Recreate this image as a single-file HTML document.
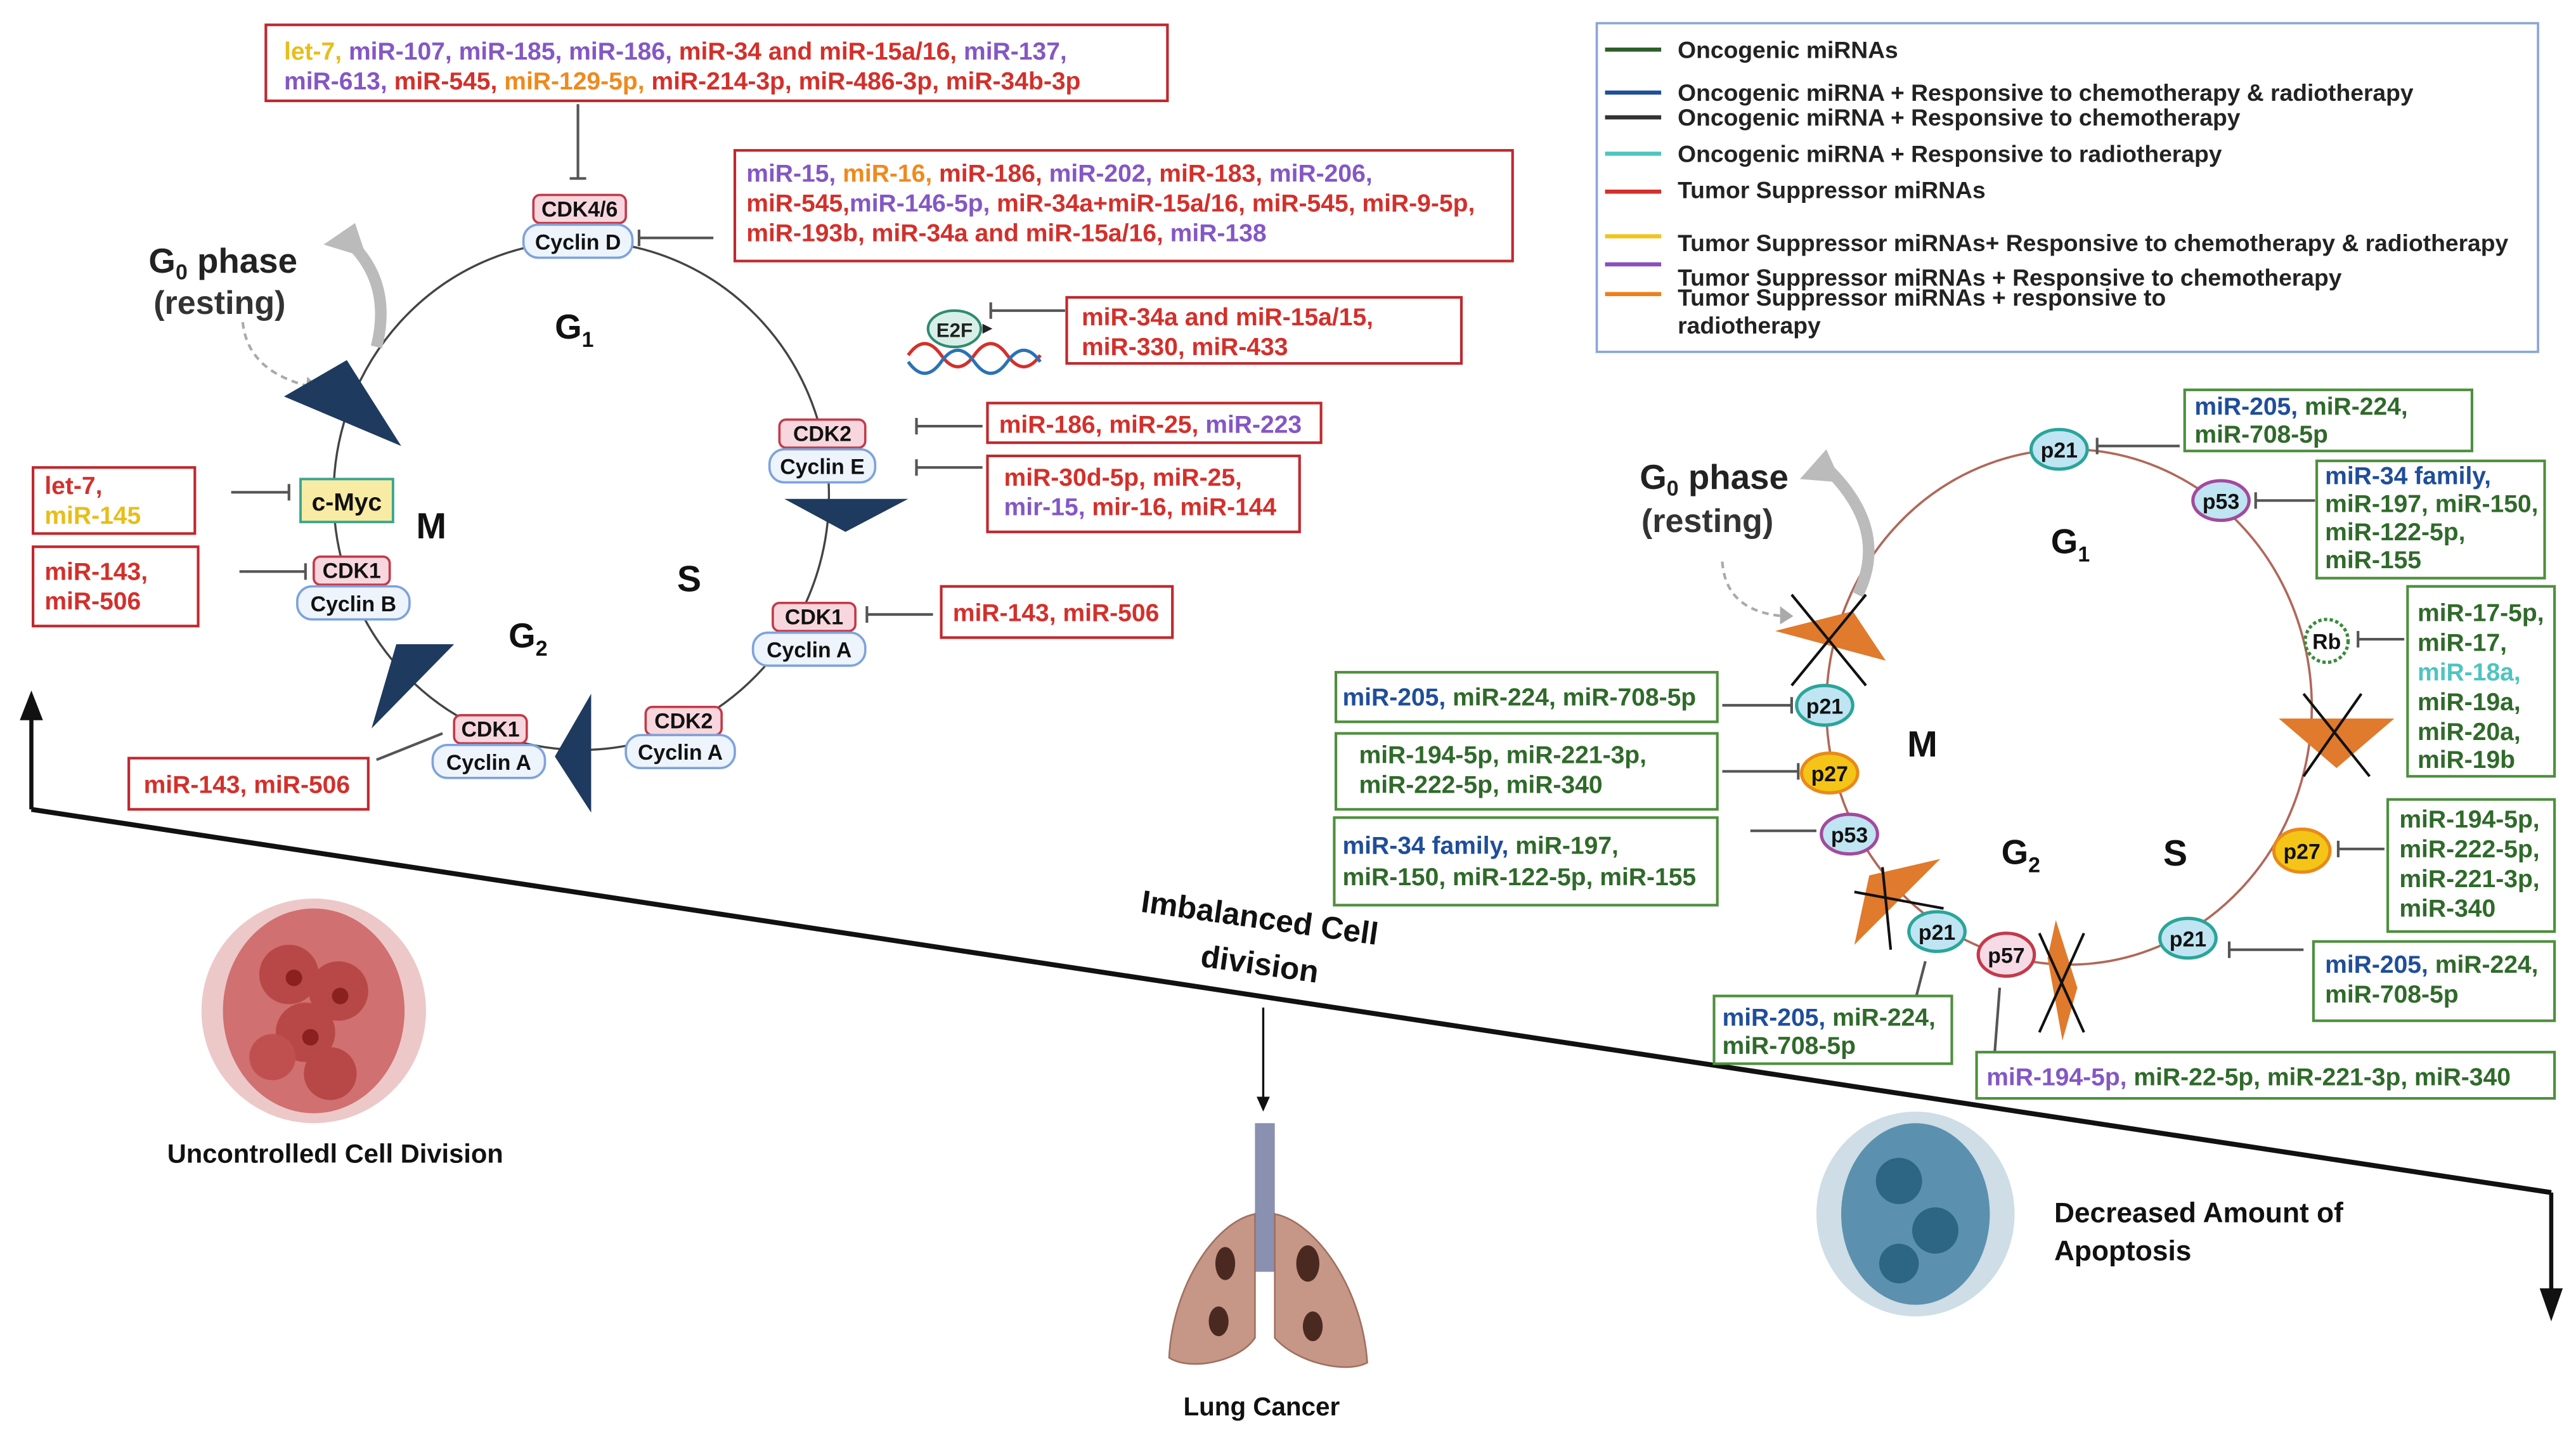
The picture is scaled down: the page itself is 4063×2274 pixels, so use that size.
<!DOCTYPE html>
<html><head><meta charset="utf-8"><style>
html,body{margin:0;padding:0;background:#fff;}
svg{display:block}
text{font-family:"Liberation Sans",sans-serif;font-weight:bold;}
.t{font-size:15px;}
.r{fill:#d3302b}.p{fill:#8457c4}.y{fill:#e7be1a}.o{fill:#ef8a1e}.g{fill:#2f6a2a}.b{fill:#1f4e9a}.c{fill:#4fc4c0}
.rb{fill:#fff;stroke:#c0282d;stroke-width:1.6}
.gb{fill:#fff;stroke:#4e8f3e;stroke-width:1.6}
.cdk{fill:#f7d7dd;stroke:#c33a4a;stroke-width:1.4}
.cyc{fill:#eef4fc;stroke:#7ea3dc;stroke-width:1.4}
.nl{font-size:13px;fill:#111}
.inh{stroke:#555;stroke-width:1.6;fill:none}
</style></head><body>
<svg width="4063" height="2274" viewBox="0 0 1560 873" xmlns="http://www.w3.org/2000/svg">
<rect width="1560" height="873" fill="#fff"/>

<line x1="19" y1="490" x2="1545" y2="722" stroke="#111" stroke-width="3"/>
<line x1="19" y1="490" x2="19" y2="430" stroke="#111" stroke-width="2.5"/>
<polygon points="12,436 26,436 19,418" fill="#111"/>
<line x1="1545" y1="722" x2="1545" y2="785" stroke="#111" stroke-width="2.5"/>
<polygon points="1538,780 1552,780 1545,800" fill="#111"/>

<ellipse cx="352" cy="300" rx="150" ry="154" fill="none" stroke="#444" stroke-width="1.3"/>
<path d="M228,210 Q238,170 210,145" stroke="#bbb" stroke-width="7" fill="none"/>
<polygon points="196,148 215,135 222,156" fill="#bbb"/>
<path d="M147,195 Q150,225 188,234" stroke="#aaa" stroke-width="1.6" stroke-dasharray="4,3" fill="none"/>
<polygon points="186,228 194,235 185,240" fill="#aaa"/>
<text x="90" y="165" font-size="21" fill="#222">G<tspan font-size="13" dy="4">0</tspan><tspan dy="-4"> phase</tspan></text>
<text x="93" y="190" font-size="20" fill="#333" font-weight="normal">(resting)</text>
<text x="336" y="205" font-size="21" fill="#111">G<tspan font-size="13" dy="5">1</tspan></text>
<text x="252" y="326" font-size="22" fill="#111">M</text>
<text x="410" y="358" font-size="22" fill="#111">S</text>
<text x="308" y="392" font-size="21" fill="#111">G<tspan font-size="13" dy="5">2</tspan></text>
<g fill="#1e3a5f">
<polygon points="172,240 210,218 243,270"/>
<polygon points="475,302 550,302 512,322"/>
<polygon points="225,441 240,390 275,390"/>
<polygon points="358,420 358,492 336,458"/>
</g>
<rect x="323" y="118" width="56" height="17" rx="4" class="cdk"/><text x="351" y="131" text-anchor="middle" class="nl">CDK4/6</text>
<rect x="317" y="136" width="66" height="20" rx="9" class="cyc"/><text x="350" y="151" text-anchor="middle" class="nl">Cyclin D</text>
<rect x="472" y="254" width="52" height="17" rx="4" class="cdk"/><text x="498" y="267" text-anchor="middle" class="nl">CDK2</text>
<rect x="466" y="272" width="64" height="20" rx="9" class="cyc"/><text x="498" y="287" text-anchor="middle" class="nl">Cyclin E</text>
<rect x="468" y="365" width="50" height="17" rx="4" class="cdk"/><text x="493" y="378" text-anchor="middle" class="nl">CDK1</text>
<rect x="456" y="383" width="68" height="20" rx="9" class="cyc"/><text x="490" y="398" text-anchor="middle" class="nl">Cyclin A</text>
<rect x="391" y="428" width="46" height="17" rx="4" class="cdk"/><text x="414" y="441" text-anchor="middle" class="nl">CDK2</text>
<rect x="379" y="445" width="66" height="20" rx="9" class="cyc"/><text x="412" y="460" text-anchor="middle" class="nl">Cyclin A</text>
<rect x="275" y="433" width="44" height="17" rx="4" class="cdk"/><text x="297" y="446" text-anchor="middle" class="nl">CDK1</text>
<rect x="262" y="451" width="68" height="20" rx="9" class="cyc"/><text x="296" y="466" text-anchor="middle" class="nl">Cyclin A</text>
<rect x="190" y="337" width="46" height="17" rx="4" class="cdk"/><text x="213" y="350" text-anchor="middle" class="nl">CDK1</text>
<rect x="180" y="355" width="68" height="20" rx="9" class="cyc"/><text x="214" y="370" text-anchor="middle" class="nl">Cyclin B</text>
<rect x="182" y="290" width="56" height="26" fill="#f8eba4" stroke="#3aa590" stroke-width="1.5"/><text x="210" y="309" text-anchor="middle" font-size="15" fill="#111">c-Myc</text>
<ellipse cx="578" cy="199" rx="16" ry="11" fill="#d8efe8" stroke="#2e8b70" stroke-width="1.6"/><text x="578" y="204" text-anchor="middle" font-size="12" fill="#222">E2F</text>
<polygon points="595,196 601,199 595,202" fill="#222"/>
<path d="M550,215 q10,-14 20,0 t20,0 t20,0 t20,0" stroke="#d3302b" stroke-width="2" fill="none"/>
<path d="M550,219 q10,14 20,0 t20,0 t20,0 t20,0" stroke="#2a72b5" stroke-width="2" fill="none"/>
<g class="inh">
<line x1="350" y1="63" x2="350" y2="108"/><line x1="345" y1="108" x2="355" y2="108"/>
<line x1="432" y1="144" x2="387" y2="144"/><line x1="387" y1="139" x2="387" y2="149"/>
<line x1="645" y1="188" x2="600" y2="188"/><line x1="600" y1="183" x2="600" y2="193"/>
<line x1="595" y1="258" x2="555" y2="258"/><line x1="555" y1="253" x2="555" y2="263"/>
<line x1="595" y1="283" x2="555" y2="283"/><line x1="555" y1="278" x2="555" y2="288"/>
<line x1="565" y1="372" x2="525" y2="372"/><line x1="525" y1="367" x2="525" y2="377"/>
<line x1="140" y1="298" x2="175" y2="298"/><line x1="175" y1="293" x2="175" y2="303"/>
<line x1="145" y1="346" x2="185" y2="346"/><line x1="185" y1="341" x2="185" y2="351"/>
<line x1="228" y1="460" x2="268" y2="444"/>
</g>
<rect x="161" y="15" width="546" height="46" class="rb"/>
<text class="t" x="172" y="36"><tspan class="y">let-7, </tspan><tspan class="p">miR-107, miR-185, miR-186, </tspan><tspan class="r">miR-34 and miR-15a/16, </tspan><tspan class="p">miR-137,</tspan></text>
<text class="t" x="172" y="54"><tspan class="p">miR-613, </tspan><tspan class="r">miR-545, </tspan><tspan class="o">miR-129-5p, </tspan><tspan class="r">miR-214-3p, miR-486-3p, miR-34b-3p</tspan></text>
<rect x="445" y="91" width="471" height="67" class="rb"/>
<text class="t" x="452" y="110"><tspan class="p">miR-15, </tspan><tspan class="o">miR-16, </tspan><tspan class="r">miR-186, </tspan><tspan class="p">miR-202, </tspan><tspan class="r">miR-183, </tspan><tspan class="p">miR-206,</tspan></text>
<text class="t" x="452" y="128"><tspan class="r">miR-545,</tspan><tspan class="p">miR-146-5p, </tspan><tspan class="r">miR-34a+miR-15a/16, miR-545, miR-9-5p,</tspan></text>
<text class="t" x="452" y="146"><tspan class="r">miR-193b, miR-34a and miR-15a/16, </tspan><tspan class="p">miR-138</tspan></text>
<rect x="646" y="180" width="239" height="40" class="rb"/>
<text class="t r" x="655" y="197">miR-34a and miR-15a/15,</text>
<text class="t r" x="655" y="215">miR-330, miR-433</text>
<rect x="598" y="244" width="202" height="24" class="rb"/>
<text class="t" x="605" y="262"><tspan class="r">miR-186, miR-25, </tspan><tspan class="p">miR-223</tspan></text>
<rect x="598" y="276" width="189" height="46" class="rb"/>
<text class="t r" x="608" y="294">miR-30d-5p, miR-25,</text>
<text class="t" x="608" y="312"><tspan class="p">mir-15, </tspan><tspan class="r">mir-16, miR-144</tspan></text>
<rect x="570" y="355" width="140" height="31" class="rb"/>
<text class="t r" x="577" y="376">miR-143, miR-506</text>
<rect x="20" y="283" width="98" height="40" class="rb"/>
<text class="t r" x="27" y="299">let-7,</text><text class="t y" x="27" y="317">miR-145</text>
<rect x="20" y="331" width="100" height="48" class="rb"/>
<text class="t r" x="27" y="351">miR-143,</text><text class="t r" x="27" y="369">miR-506</text>
<rect x="78" y="459" width="145" height="31" class="rb"/>
<text class="t r" x="87" y="480">miR-143, miR-506</text>

<rect x="967" y="14" width="570" height="199" fill="#fff" stroke="#8aa6d6" stroke-width="1.4"/>
<g stroke-width="2.5">
<line x1="972" y1="30" x2="1006" y2="30" stroke="#2e5e2e"/>
<line x1="972" y1="56" x2="1006" y2="56" stroke="#1f4e9a"/>
<line x1="972" y1="71" x2="1006" y2="71" stroke="#333"/>
<line x1="972" y1="93" x2="1006" y2="93" stroke="#4fc4c0"/>
<line x1="972" y1="116" x2="1006" y2="116" stroke="#d3302b"/>
<line x1="972" y1="143" x2="1006" y2="143" stroke="#f0c419"/>
<line x1="972" y1="160" x2="1006" y2="160" stroke="#8a4fc0"/>
<line x1="972" y1="178" x2="1006" y2="178" stroke="#f07f1a"/>
</g>
<g font-size="14.3" fill="#222">
<text x="1016" y="35">Oncogenic miRNAs</text>
<text x="1016" y="61">Oncogenic miRNA + Responsive to chemotherapy &amp; radiotherapy</text>
<text x="1016" y="76">Oncogenic miRNA + Responsive to chemotherapy</text>
<text x="1016" y="98">Oncogenic miRNA + Responsive to radiotherapy</text>
<text x="1016" y="120">Tumor Suppressor miRNAs</text>
<text x="1016" y="152">Tumor Suppressor miRNAs+ Responsive to chemotherapy &amp; radiotherapy</text>
<text x="1016" y="173">Tumor Suppressor miRNAs + Responsive to chemotherapy</text>
<text x="1016" y="185">Tumor Suppressor miRNAs + responsive to</text>
<text x="1016" y="202">radiotherapy</text>
</g>

<ellipse cx="1253" cy="428" rx="147" ry="156" fill="none" stroke="#b0685a" stroke-width="1.4"/>
<path d="M1125,360 Q1145,320 1105,282" stroke="#bbb" stroke-width="7" fill="none"/>
<polygon points="1090,290 1106,272 1115,292" fill="#bbb"/>
<path d="M1043,340 Q1045,370 1080,373" stroke="#aaa" stroke-width="1.6" stroke-dasharray="4,3" fill="none"/>
<polygon points="1078,367 1086,373 1078,378" fill="#aaa"/>
<text x="993" y="296" font-size="21" fill="#222">G<tspan font-size="13" dy="4">0</tspan><tspan dy="-4"> phase</tspan></text>
<text x="994" y="322" font-size="20" fill="#333" font-weight="normal">(resting)</text>
<text x="1242" y="335" font-size="21" fill="#111">G<tspan font-size="13" dy="5">1</tspan></text>
<text x="1155" y="458" font-size="22" fill="#111">M</text>
<text x="1212" y="523" font-size="21" fill="#111">G<tspan font-size="13" dy="5">2</tspan></text>
<text x="1310" y="524" font-size="22" fill="#111">S</text>
<g fill="#e07a2c">
<polygon points="1075,382 1122,370 1142,400"/>
<polygon points="1380,435 1450,435 1415,465"/>
<polygon points="1123,572 1132,530 1175,520"/>
<polygon points="1245,557 1258,598 1249,630 1240,580"/>
</g>
<g stroke="#111" stroke-width="1.6">
<line x1="1085" y1="360" x2="1130" y2="415"/><line x1="1130" y1="360" x2="1085" y2="415"/>
<line x1="1395" y1="420" x2="1435" y2="470"/><line x1="1430" y1="420" x2="1395" y2="470"/>
<line x1="1123" y1="540" x2="1177" y2="550"/><line x1="1140" y1="525" x2="1145" y2="575"/>
<line x1="1235" y1="565" x2="1262" y2="625"/><line x1="1262" y1="565" x2="1235" y2="625"/>
</g>
<g font-size="13" fill="#111" text-anchor="middle">
<ellipse cx="1247" cy="272" rx="17" ry="12" fill="#bfe4f2" stroke="#2aa59a" stroke-width="2"/><text x="1247" y="277">p21</text>
<ellipse cx="1345" cy="303" rx="17" ry="12" fill="#bfe4f2" stroke="#a34a9c" stroke-width="2"/><text x="1345" y="308">p53</text>
<ellipse cx="1105" cy="427" rx="17" ry="12" fill="#bfe4f2" stroke="#2aa59a" stroke-width="2"/><text x="1105" y="432">p21</text>
<ellipse cx="1108" cy="468" rx="17" ry="12" fill="#f4c517" stroke="#e88a1a" stroke-width="2"/><text x="1108" y="473">p27</text>
<ellipse cx="1120" cy="505" rx="17" ry="12" fill="#bfe4f2" stroke="#a34a9c" stroke-width="2"/><text x="1120" y="510">p53</text>
<ellipse cx="1173" cy="564" rx="17" ry="12" fill="#bfe4f2" stroke="#2aa59a" stroke-width="2"/><text x="1173" y="569">p21</text>
<ellipse cx="1215" cy="578" rx="17" ry="13" fill="#f6dbe6" stroke="#c33a4a" stroke-width="2"/><text x="1215" y="583">p57</text>
<ellipse cx="1325" cy="568" rx="17" ry="12" fill="#bfe4f2" stroke="#2aa59a" stroke-width="2"/><text x="1325" y="573">p21</text>
<ellipse cx="1394" cy="515" rx="17" ry="13" fill="#f4c517" stroke="#e88a1a" stroke-width="2"/><text x="1394" y="520">p27</text>
<circle cx="1409" cy="388" r="13" fill="#fff" stroke="#3a8a3a" stroke-width="2" stroke-dasharray="2,1.5"/><text x="1409" y="393">Rb</text>
</g>
<g class="inh">
<line x1="1320" y1="270" x2="1270" y2="270"/><line x1="1270" y1="265" x2="1270" y2="275"/>
<line x1="1402" y1="303" x2="1366" y2="303"/><line x1="1366" y1="298" x2="1366" y2="308"/>
<line x1="1456" y1="387" x2="1428" y2="387"/><line x1="1428" y1="382" x2="1428" y2="392"/>
<line x1="1043" y1="427" x2="1085" y2="427"/><line x1="1085" y1="422" x2="1085" y2="432"/>
<line x1="1043" y1="467" x2="1089" y2="467"/><line x1="1089" y1="462" x2="1089" y2="472"/>
<line x1="1060" y1="503" x2="1100" y2="503"/>
<line x1="1444" y1="514" x2="1416" y2="514"/><line x1="1416" y1="509" x2="1416" y2="519"/>
<line x1="1395" y1="575" x2="1350" y2="575"/><line x1="1350" y1="570" x2="1350" y2="580"/>
<line x1="1160" y1="605" x2="1166" y2="582"/>
<line x1="1208" y1="637" x2="1211" y2="598"/>
</g>
<rect x="1323" y="236" width="174" height="37" class="gb"/>
<text class="t" x="1329" y="251"><tspan class="b">miR-205, </tspan><tspan class="g">miR-224,</tspan></text><text class="t g" x="1329" y="268">miR-708-5p</text>
<rect x="1403" y="279" width="138" height="71" class="gb"/>
<text class="t b" x="1408" y="293">miR-34 family,</text>
<text class="t g" x="1408" y="310">miR-197, miR-150,</text>
<text class="t g" x="1408" y="327">miR-122-5p,</text>
<text class="t g" x="1408" y="344">miR-155</text>
<rect x="1458" y="355" width="89" height="115" class="gb"/>
<text class="t g" x="1464" y="376">miR-17-5p,</text>
<text class="t g" x="1464" y="394">miR-17,</text>
<text class="t c" x="1464" y="412">miR-18a,</text>
<text class="t g" x="1464" y="430">miR-19a,</text>
<text class="t g" x="1464" y="448">miR-20a,</text>
<text class="t g" x="1464" y="465">miR-19b</text>
<rect x="809" y="407" width="231" height="30" class="gb"/>
<text class="t" x="813" y="427"><tspan class="b">miR-205, </tspan><tspan class="g">miR-224, miR-708-5p</tspan></text>
<rect x="809" y="444" width="231" height="46" class="gb"/>
<text class="t g" x="823" y="462">miR-194-5p, miR-221-3p,</text>
<text class="t g" x="823" y="480">miR-222-5p, miR-340</text>
<rect x="808" y="495" width="232" height="53" class="gb"/>
<text class="t" x="813" y="517"><tspan class="b">miR-34 family, </tspan><tspan class="g">miR-197,</tspan></text>
<text class="t g" x="813" y="536">miR-150, miR-122-5p, miR-155</text>
<rect x="1446" y="484" width="101" height="80" class="gb"/>
<text class="t g" x="1453" y="501">miR-194-5p,</text>
<text class="t g" x="1453" y="519">miR-222-5p,</text>
<text class="t g" x="1453" y="537">miR-221-3p,</text>
<text class="t g" x="1453" y="555">miR-340</text>
<rect x="1401" y="570" width="146" height="48" class="gb"/>
<text class="t" x="1408" y="589"><tspan class="b">miR-205, </tspan><tspan class="g">miR-224,</tspan></text>
<text class="t g" x="1408" y="607">miR-708-5p</text>
<rect x="1038" y="603" width="144" height="41" class="gb"/>
<text class="t" x="1043" y="621"><tspan class="b">miR-205, </tspan><tspan class="g">miR-224,</tspan></text>
<text class="t g" x="1043" y="638">miR-708-5p</text>
<rect x="1197" y="637" width="350" height="28" class="gb"/>
<text class="t" x="1203" y="657"><tspan class="p">miR-194-5p, </tspan><tspan class="g">miR-22-5p, miR-221-3p, miR-340</tspan></text>

<text x="762" y="562" font-size="19" fill="#111" text-anchor="middle" transform="rotate(8 762 562)">Imbalanced Cell</text>
<text x="762" y="590" font-size="19" fill="#111" text-anchor="middle" transform="rotate(8 762 590)">division</text>
<line x1="765" y1="610" x2="765" y2="668" stroke="#111" stroke-width="1.3"/>
<polygon points="761,664 769,664 765,673" fill="#111"/>
<text x="203" y="704" font-size="16" fill="#111" text-anchor="middle">Uncontrolledl Cell Division</text>
<text x="764" y="857" font-size="15.5" fill="#111" text-anchor="middle">Lung Cancer</text>
<text x="1244" y="740" font-size="17" fill="#111">Decreased Amount of</text>
<text x="1244" y="763" font-size="17" fill="#111">Apoptosis</text>

<g>
<ellipse cx="190" cy="612" rx="68" ry="68" fill="#e6b0b0" opacity="0.7"/>
<ellipse cx="190" cy="612" rx="55" ry="62" fill="#c85a5a" opacity="0.8"/>
<circle cx="175" cy="590" r="18" fill="#b84848"/><circle cx="205" cy="600" r="18" fill="#b84848"/>
<circle cx="185" cy="625" r="18" fill="#b84848"/><circle cx="200" cy="650" r="16" fill="#b84848"/>
<circle cx="165" cy="640" r="14" fill="#c05050"/>
<circle cx="178" cy="592" r="5" fill="#8a2020"/><circle cx="206" cy="603" r="5" fill="#8a2020"/><circle cx="188" cy="628" r="5" fill="#8a2020"/>
</g>
<g>
<rect x="760" y="680" width="12" height="90" fill="#8a90b0"/>
<path d="M760,735 C735,740 710,780 708,822 C720,830 750,825 760,810 L760,760 Z" fill="#c69687" stroke="#a07060"/>
<path d="M772,735 C797,740 825,780 828,825 C815,832 785,825 772,810 L772,760 Z" fill="#c69687" stroke="#a07060"/>
<ellipse cx="742" cy="765" rx="6" ry="10" fill="#4a2a20"/><ellipse cx="792" cy="765" rx="7" ry="11" fill="#4a2a20"/>
<ellipse cx="738" cy="800" rx="6" ry="9" fill="#4a2a20"/><ellipse cx="795" cy="803" rx="6" ry="9" fill="#4a2a20"/>
</g>
<g>
<ellipse cx="1160" cy="735" rx="60" ry="62" fill="#b9cfdc" opacity="0.7"/>
<ellipse cx="1160" cy="735" rx="45" ry="55" fill="#3f7ea0" opacity="0.8"/>
<circle cx="1150" cy="715" r="14" fill="#2d6585"/><circle cx="1172" cy="745" r="14" fill="#2d6585"/><circle cx="1150" cy="765" r="12" fill="#2d6585"/>
</g>
</svg>
</body></html>
